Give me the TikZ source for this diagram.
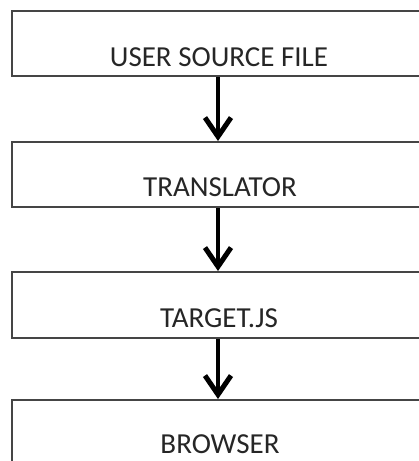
\documentclass[tikz,border=0pt]{standalone}
\usepackage{fontspec}
\newfontfamily\lab{Carlito}
\usetikzlibrary{arrows.meta}
\definecolor{boxline}{HTML}{454545}
\tikzset{
  flowbox/.style={draw=boxline, line width=2pt, rectangle, minimum width=418pt, inner sep=0pt},
  flowtext/.style={anchor=base, inner sep=0pt, font=\lab\fontsize{29pt}{32pt}\selectfont, text=black!85},
  flowarrow/.style={line width=4.5pt, -{Straight Barb[length=19pt,width=26pt,line width=5pt]}}
}
\begin{document}
\begin{tikzpicture}[x=1pt,y=-1pt]
\useasboundingbox (0,0) rectangle (419,461);
\clip (0,0) rectangle (419,461);
\fill[white] (0,0) rectangle (419,461);
\node[flowbox, minimum height=65pt] (b1) at (221,43.5) {};
\node[flowbox, minimum height=65pt] (b2) at (221,174.5) {};
\node[flowbox, minimum height=66pt] (b3) at (221,305) {};
\node[flowbox, minimum height=66pt] (b4) at (221,433) {};
\node[flowtext] (t1) at (219,66.3) {USER SOURCE FILE};
\node[flowtext] (t2) at (220,196) {TRANSLATOR};
\node[flowtext] (t3) at (219,327) {TARGET.JS};
\node[flowtext] (t4) at (220,453) {BROWSER};
\draw[flowarrow] (b1.south -| 218,0) -- (b2.north -| 218,0);
\draw[flowarrow] (b2.south -| 218,0) -- (b3.north -| 218,0);
\draw[flowarrow] (b3.south -| 218,0) -- (b4.north -| 218,0);
\end{tikzpicture}
\end{document}
